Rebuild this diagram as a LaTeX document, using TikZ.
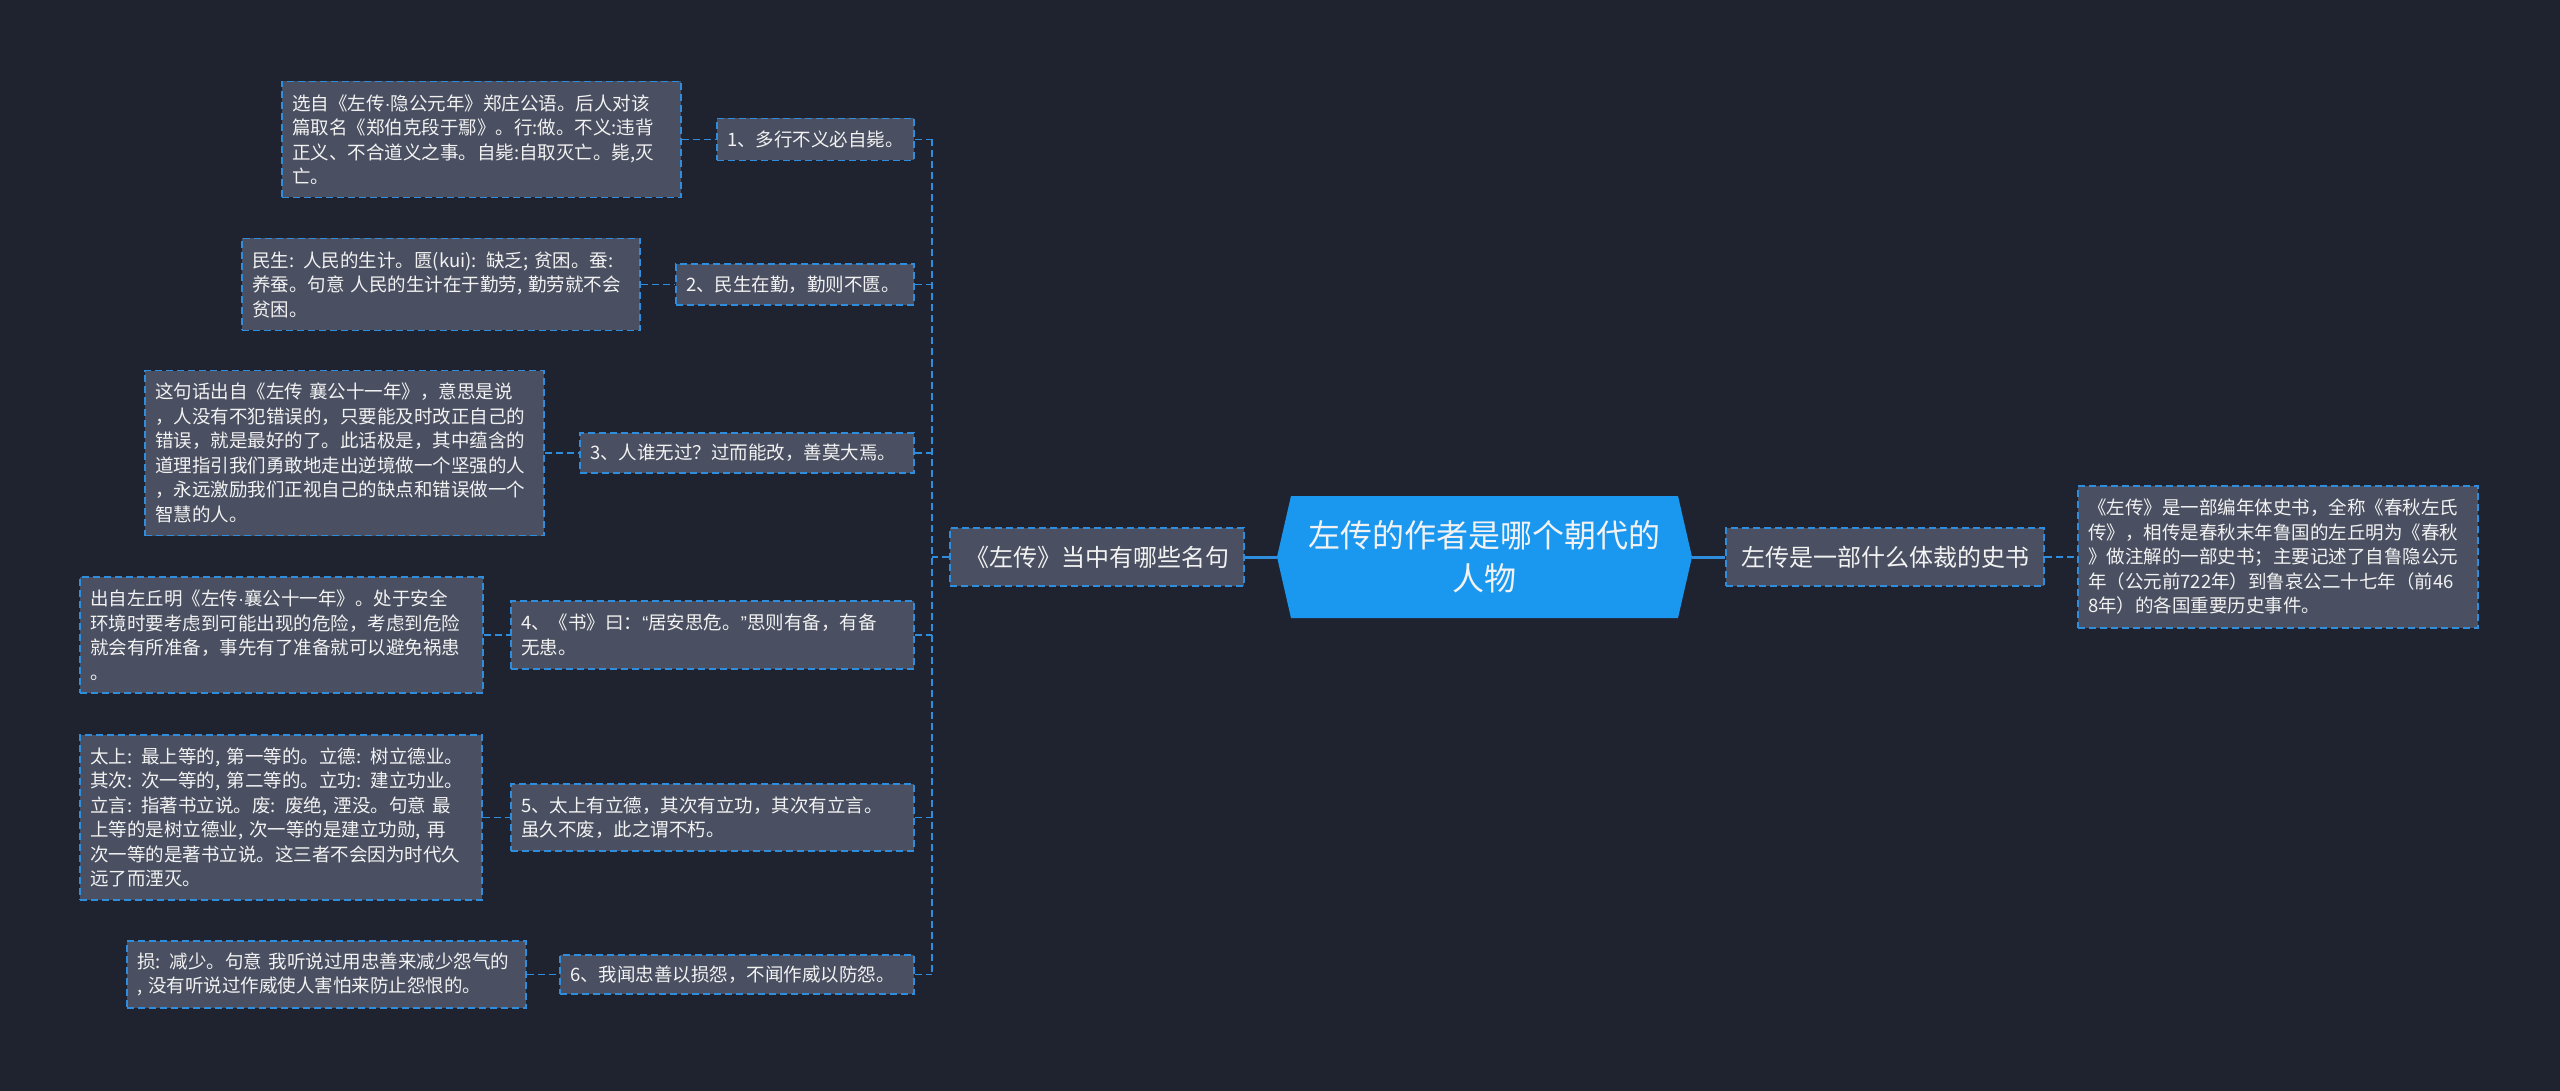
\documentclass[tikz,border=0pt]{standalone}
\usepackage{fontspec}
\setmainfont{Noto Sans CJK SC}
\newfontfamily\latinfont{Liberation Sans}
\newcommand{\mdot}{{\latinfont ·}}
\newcommand{\myLq}{{\latinfont “}}
\newcommand{\myRq}{{\latinfont ”}}
\definecolor{bg}{HTML}{1F2330}
\definecolor{nodefill}{HTML}{4A5061}
\definecolor{edgeblue}{HTML}{2E8EDD}
\definecolor{rootfill}{HTML}{1A98F0}
\definecolor{txt}{HTML}{F2F2F2}
\begin{document}
\begin{tikzpicture}[x=1pt,y=-1pt,
  box/.style={draw=edgeblue, fill=nodefill, line width=1.6pt, dash pattern=on 7pt off 4pt,
    text=txt, align=left, inner xsep=10pt, inner ysep=0pt, anchor=center,
    font=\fontsize{18.5}{24.5}\selectfont},
  midbox/.style={box, align=center, font=\fontsize{24}{30}\selectfont},
  rootnode/.style={text=txt, align=center, inner sep=0pt, anchor=center,
    font=\fontsize{32}{43}\selectfont},
  link/.style={draw=edgeblue, line width=1.6pt, dash pattern=on 7pt off 4pt},
  solidlink/.style={draw=edgeblue, line width=3pt},
]
\fill[bg] (0,0) rectangle (2560,1091);
\useasboundingbox (0,0) rectangle (2560,1091);

% root hexagon
\fill[rootfill] (1291,496) -- (1678,496) -- (1692,557) -- (1678,618) -- (1291,618) -- (1277,557) -- cycle;
\node[rootnode, minimum width=415pt, minimum height=122pt] (root) at (1484.5,557) {左传的作者是哪个朝代的\\人物};

\node[midbox, text width=274pt, minimum height=58pt] (L) at (1097,557) {《左传》当中有哪些名句};
\node[midbox, text width=298pt, minimum height=58pt] (R) at (1885,557) {左传是一部什么体裁的史书};

\node[box, text width=380pt, minimum height=142pt] (lr) at (2278,557) {《左传》是一部编年体史书，全称《春秋左氏\\传》，相传是春秋末年鲁国的左丘明为《春秋\\》做注解的一部史书；主要记述了自鲁隐公元\\年（公元前722年）到鲁哀公二十七年（前46\\8年）的各国重要历史事件。};

% items
\node[box, text width=177pt, minimum height=42pt] (n1) at (815.5,139.5) {1、多行不义必自毙。};
\node[box, text width=218pt, minimum height=41pt] (n2) at (795,284.5) {2、民生在勤，勤则不匮。};
\node[box, text width=314pt, minimum height=40pt] (n3) at (747,453) {3、人谁无过？过而能改，善莫大焉。};
\node[box, text width=383pt, minimum height=68pt] (n4) at (712.5,635) {4、《书》曰：\myLq 居安思危。\myRq 思则有备，有备\\无患。};
\node[box, text width=383pt, minimum height=67pt] (n5) at (712.5,817.5) {5、太上有立德，其次有立功，其次有立言。\\虽久不废，此之谓不朽。};
\node[box, text width=334pt, minimum height=39pt] (n6) at (737,974.5) {6、我闻忠善以损怨，不闻作威以防怨。};

% leaves
\node[box, text width=379pt, minimum height=116pt] (l1) at (481.5,139.5) {选自《左传\mdot 隐公元年》郑庄公语。后人对该\\篇取名《郑伯克段于鄢》。行:做。不义:违背\\正义、不合道义之事。自毙:自取灭亡。毙,灭\\亡。};
\node[box, text width=378pt, minimum height=92pt] (l2) at (441,284.5) {民生: 人民的生计。匮(kui): 缺乏; 贫困。蚕:\\养蚕。句意 人民的生计在于勤劳, 勤劳就不会\\贫困。};
\node[box, text width=379pt, minimum height=165pt] (l3) at (344.5,453) {这句话出自《左传 襄公十一年》，意思是说\\，人没有不犯错误的，只要能及时改正自己的\\错误，就是最好的了。此话极是，其中蕴含的\\道理指引我们勇敢地走出逆境做一个坚强的人\\，永远激励我们正视自己的缺点和错误做一个\\智慧的人。};
\node[box, text width=383pt, minimum height=116pt] (l4) at (281.5,635) {出自左丘明《左传\mdot 襄公十一年》。处于安全\\环境时要考虑到可能出现的危险，考虑到危险\\就会有所准备，事先有了准备就可以避免祸患\\。};
\node[box, text width=382pt, minimum height=165pt] (l5) at (281,817.5) {太上: 最上等的, 第一等的。立德: 树立德业。\\其次: 次一等的, 第二等的。立功: 建立功业。\\立言: 指著书立说。废: 废绝, 湮没。句意 最\\上等的是树立德业, 次一等的是建立功勋, 再\\次一等的是著书立说。这三者不会因为时代久\\远了而湮灭。};
\node[box, text width=379pt, minimum height=67pt] (l6) at (326.5,974.5) {损: 减少。句意 我听说过用忠善来减少怨气的\\, 没有听说过作威使人害怕来防止怨恨的。};

\coordinate (tk) at (932,557);

% connectors
\draw[solidlink] (L.east) -- (root.west);
\draw[solidlink] (root.east) -- (R.west);
\draw[link] (R.east) -- (lr.west);
\draw[link] (L.west) -- (tk);
\draw[link] (n1.east -| tk) -- (n6.east -| tk);
\foreach \i in {1,...,6} {
  \draw[link] (n\i.east) -- (n\i.east -| tk);
  \draw[link] (l\i.east) -- (n\i.west);
}
\end{tikzpicture}
\end{document}
